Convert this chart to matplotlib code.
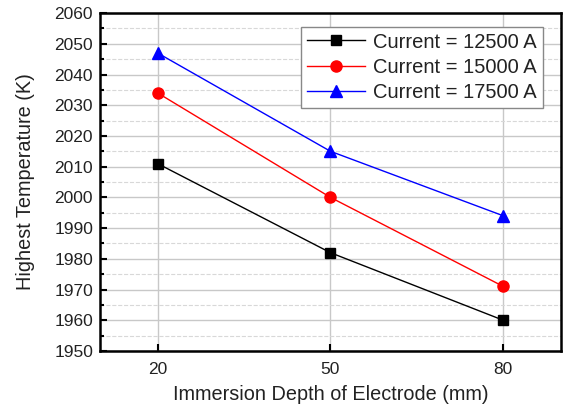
import numpy as np
import matplotlib.pyplot as plt
from matplotlib.ticker import MultipleLocator

depth = [20, 50, 80]
temp_12500 = [2011, 1982, 1960]
temp_15000 = [2034, 2000, 1971]
temp_17500 = [2047, 2015, 1994]
labels = ["Current = 12500 A", "Current = 15000 A", "Current = 17500 A"]

plt.rcParams['font.family'] = ['Liberation Sans', 'DejaVu Sans']

fig = plt.figure(figsize=(5.63, 4.08), dpi=100)
ax = fig.add_axes([0.1776, 0.1397, 0.8188, 0.8283])

ax.plot(depth, temp_12500, color="black", marker="s", markersize=7, linewidth=1, label=labels[0])
ax.plot(depth, temp_15000, color="red", marker="o", markersize=8, linewidth=1, label=labels[1])
ax.plot(depth, temp_17500, color="blue", marker="^", markersize=9, linewidth=1, label=labels[2])

ax.set_xlim(10, 90)
ax.set_ylim(1950, 2060)
ax.set_xticks(depth)
ax.yaxis.set_major_locator(MultipleLocator(10))
ax.yaxis.set_minor_locator(MultipleLocator(5))

ax.grid(which="major", color="#c8c8c8", linewidth=1)
ax.grid(which="minor", axis="y", color="#d8d8d8", linestyle="--", linewidth=0.8)
ax.set_axisbelow(True)

ax.tick_params(which="both", direction="in", width=1.5, labelsize=12.5, labelcolor="#222222")
ax.tick_params(which="major", length=5)
ax.tick_params(which="minor", length=3)
ax.tick_params(axis="x", pad=8)
ax.tick_params(axis="y", pad=5)
for s in ax.spines.values():
    s.set_linewidth(1.8)

ax.set_xlabel("Immersion Depth of Electrode (mm)", fontsize=14.3, labelpad=6, color="#222222")
ax.set_ylabel("Highest Temperature (K)", fontsize=14.3, labelpad=14, color="#222222")

leg = ax.legend(loc="upper right", bbox_to_anchor=(0.983, 0.99), fontsize=14.5, fancybox=False,
                edgecolor="#888888", framealpha=1, handlelength=2.9, labelspacing=0.3,
                borderpad=0.3, handletextpad=0.4)
leg.get_frame().set_linewidth(1)
for t in leg.get_texts():
    t.set_color("#222222")

fig.savefig("out.png", dpi=100)
